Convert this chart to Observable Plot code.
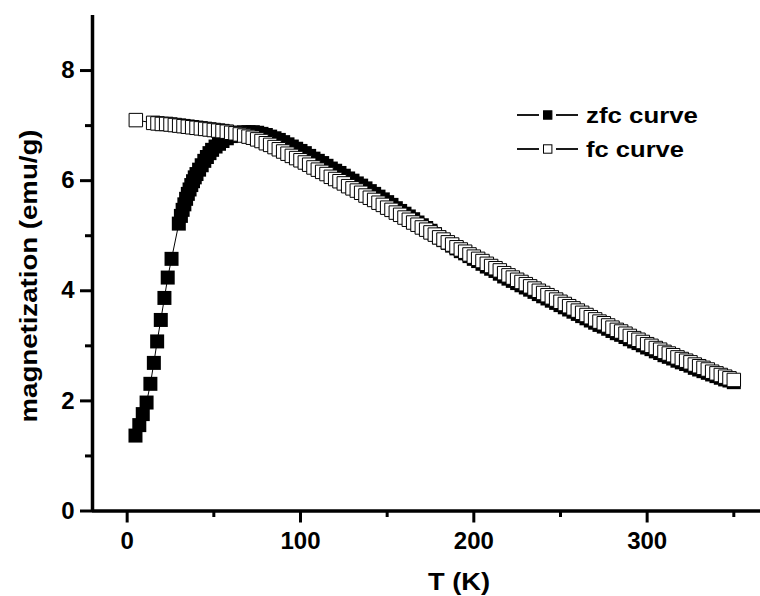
<!DOCTYPE html>
<html>
<head>
<meta charset="utf-8">
<script src="https://cdn.jsdelivr.net/npm/d3@7"></script>
<script src="https://cdn.jsdelivr.net/npm/@observablehq/plot@0.6"></script>
<style>
  body { margin: 0; background: #fff; }
</style>
</head>
<body>
<div id="chart"></div>
<script>
// ---- Data (T in K, M in emu/g) ----
const xMajorTicks = [0, 100, 200, 300];
const xMinorTicks = [50, 150, 250, 350];
const yMajorTicks = [0, 2, 4, 6, 8];
const yMinorTicks = [1, 3, 5, 7];

const xLabel = "T (K)";
const yLabel = "magnetization (emu/g)";
const seriesNames = ["zfc curve", "fc curve"];

const zfcPoints = [
  [4.8, 1.37], [7.0, 1.56], [9.0, 1.76], [11.2, 1.97], [13.4, 2.31], [15.4, 2.69],
  [17.3, 3.08], [19.4, 3.47], [21.5, 3.87], [23.4, 4.24], [25.6, 4.58], [29.8, 5.22],
  [31, 5.36], [32, 5.47], [33, 5.57], [34, 5.67], [35, 5.76], [36, 5.84], [37, 5.92],
  [38, 5.99], [39, 6.06], [40, 6.12], [41.5, 6.20], [43, 6.28], [44.5, 6.36], [46, 6.43],
  [47.5, 6.50], [49, 6.56], [51, 6.62], [53, 6.67], [55, 6.72], [57.5, 6.77], [60, 6.81],
  [62.5, 6.84], [65, 6.86], [67.5, 6.88], [70, 6.88], [72.5, 6.88], [75, 6.87], [77.5, 6.85],
  [80, 6.83], [82.5, 6.80], [85, 6.77], [87.5, 6.74], [90, 6.70], [92.5, 6.66], [95, 6.62],
  [97.5, 6.58], [100, 6.54], [102.5, 6.50], [105, 6.45], [107.5, 6.40], [110, 6.36],
  [112.5, 6.32], [115, 6.27], [117.5, 6.22], [120, 6.18], [122.5, 6.14], [125, 6.09],
  [127.5, 6.04], [130, 6.00], [132.5, 5.95], [135, 5.91], [137.5, 5.86], [140, 5.81],
  [142.5, 5.76], [145, 5.71], [147.5, 5.66], [150, 5.61], [152.5, 5.56], [155, 5.50],
  [157.5, 5.45], [160, 5.40], [162.5, 5.35], [165, 5.30], [167.5, 5.24], [170, 5.19],
  [172.5, 5.14], [175, 5.09], [177.5, 5.03], [180, 4.97], [182.5, 4.92], [185, 4.87],
  [187.5, 4.82], [190, 4.77], [192.5, 4.72], [195, 4.68], [197.5, 4.63], [200, 4.58],
  [202.5, 4.54], [205, 4.49], [207.5, 4.44], [210, 4.40], [212.5, 4.36], [215, 4.31],
  [217.5, 4.26], [220, 4.22], [222.5, 4.18], [225, 4.14], [227.5, 4.10], [230, 4.06],
  [232.5, 4.02], [235, 3.98], [237.5, 3.94], [240, 3.90], [242.5, 3.86], [245, 3.82],
  [247.5, 3.78], [250, 3.74], [252.5, 3.70], [255, 3.66], [257.5, 3.62], [260, 3.58],
  [262.5, 3.54], [265, 3.50], [267.5, 3.46], [270, 3.42], [272.5, 3.38], [275, 3.35],
  [277.5, 3.31], [280, 3.27], [282.5, 3.23], [285, 3.20], [287.5, 3.16], [290, 3.12],
  [292.5, 3.08], [295, 3.05], [297.5, 3.01], [300, 2.97], [302.5, 2.94], [305, 2.90],
  [307.5, 2.87], [310, 2.83], [312.5, 2.80], [315, 2.77], [317.5, 2.73], [320, 2.70],
  [322.5, 2.67], [325, 2.64], [327.5, 2.60], [330, 2.57], [332.5, 2.54], [335, 2.51],
  [337.5, 2.48], [340, 2.45], [342.5, 2.42], [345, 2.39], [347.5, 2.37], [350, 2.34]
];

const fcPoints = [
  [5, 7.10], [15, 7.05], [17.5, 7.04], [20, 7.03], [22.5, 7.03], [25, 7.02], [27.5, 7.01],
  [30, 7.00], [32.5, 6.99], [35, 6.98], [37.5, 6.97], [40, 6.96], [42.5, 6.95], [45, 6.94],
  [47.5, 6.93], [50, 6.92], [52.5, 6.91], [55, 6.90], [57.5, 6.89], [60, 6.87], [62.5, 6.86],
  [65, 6.84], [67.5, 6.82], [70, 6.80], [72.5, 6.78], [75, 6.75], [77.5, 6.72], [80, 6.68],
  [82.5, 6.65], [85, 6.61], [87.5, 6.57], [90, 6.53], [92.5, 6.49], [95, 6.45], [97.5, 6.41],
  [100, 6.37], [102.5, 6.33], [105, 6.29], [107.5, 6.24], [110, 6.20], [112.5, 6.16],
  [115, 6.12], [117.5, 6.07], [120, 6.03], [122.5, 5.99], [125, 5.95], [127.5, 5.90],
  [130, 5.86], [132.5, 5.82], [135, 5.78], [137.5, 5.73], [140, 5.69], [142.5, 5.65],
  [145, 5.60], [147.5, 5.56], [150, 5.51], [152.5, 5.47], [155, 5.42], [157.5, 5.38],
  [160, 5.33], [162.5, 5.29], [165, 5.24], [167.5, 5.20], [170, 5.15], [172.5, 5.11],
  [175, 5.06], [177.5, 5.02], [180, 4.97], [182.5, 4.93], [185, 4.88], [187.5, 4.84],
  [190, 4.79], [192.5, 4.75], [195, 4.71], [197.5, 4.66], [200, 4.62], [202.5, 4.58],
  [205, 4.54], [207.5, 4.49], [210, 4.45], [212.5, 4.41], [215, 4.37], [217.5, 4.32],
  [220, 4.28], [222.5, 4.24], [225, 4.20], [227.5, 4.16], [230, 4.12], [232.5, 4.08],
  [235, 4.04], [237.5, 4.00], [240, 3.96], [242.5, 3.92], [245, 3.88], [247.5, 3.84],
  [250, 3.80], [252.5, 3.76], [255, 3.72], [257.5, 3.68], [260, 3.64], [262.5, 3.60],
  [265, 3.56], [267.5, 3.52], [270, 3.48], [272.5, 3.44], [275, 3.41], [277.5, 3.37],
  [280, 3.33], [282.5, 3.29], [285, 3.26], [287.5, 3.22], [290, 3.18], [292.5, 3.14],
  [295, 3.11], [297.5, 3.07], [300, 3.03], [302.5, 3.00], [305, 2.96], [307.5, 2.93],
  [310, 2.89], [312.5, 2.86], [315, 2.83], [317.5, 2.79], [320, 2.76], [322.5, 2.73],
  [325, 2.70], [327.5, 2.66], [330, 2.63], [332.5, 2.60], [335, 2.57], [337.5, 2.53],
  [340, 2.50], [342.5, 2.47], [345, 2.44], [347.5, 2.41], [350, 2.38]
];

// ---- Tables built from the arrays ----
const zfc = zfcPoints.map(([T, M]) => ({T, M}));
const fc = fcPoints.map(([T, M]) => ({T, M}));

const FONT = "'Liberation Sans', Arial, Helvetica, sans-serif";

const chart = Plot.plot({
  width: 760,
  height: 596,
  marginLeft: 92,
  marginRight: 0,
  marginTop: 15,
  marginBottom: 85.5,
  x: {domain: [-20, 365.4]},
  y: {domain: [0, 9]},
  style: {fontFamily: FONT, fontWeight: "bold", fontSize: "24px", color: "black", background: "white", overflow: "visible"},
  marks: [
    // axes
    Plot.axisX({ticks: xMajorTicks, tickSize: 12, tickPadding: 9, strokeWidth: 3, label: null, fontSize: 24, fontWeight: "bold"}),
    Plot.axisX({ticks: xMinorTicks, tickSize: 6.5, strokeWidth: 3, tickFormat: () => "", label: null}),
    Plot.axisY({ticks: yMajorTicks, tickSize: 12, tickPadding: 6, strokeWidth: 3, label: null, fontSize: 24, fontWeight: "bold"}),
    Plot.axisY({ticks: yMinorTicks, tickSize: 7, strokeWidth: 3, tickFormat: () => "", label: null}),
    Plot.ruleY([0], {strokeWidth: 3.5, stroke: "black"}),
    Plot.ruleX([-20], {y1: 0, y2: 9, strokeWidth: 3.5, stroke: "black"}),
    // zfc series
    Plot.line(zfc, {x: "T", y: "M", stroke: "black", strokeWidth: 1}),
    Plot.dot(zfc, {x: "T", y: "M", symbol: "square", r: 7.9, fill: "black", stroke: "none"}),
    // fc series
    Plot.line(fc, {x: "T", y: "M", stroke: "black", strokeWidth: 1}),
    Plot.dot(fc, {x: "T", y: "M", symbol: "square", r: 7.6, fill: "white", stroke: "black", strokeWidth: 1})
  ]
});
document.getElementById("chart").append(chart);

// ---- Axis titles and legend ----
const svg = d3.select(chart);

svg.append("text")
  .attr("transform", "translate(29,276) rotate(-90)")
  .attr("text-anchor", "middle")
  .attr("dy", "0.35em")
  .attr("font-family", FONT)
  .attr("font-weight", "bold")
  .attr("font-size", 24)
  .attr("textLength", 293)
  .attr("lengthAdjust", "spacingAndGlyphs")
  .attr("fill", "black")
  .text(yLabel);

svg.append("text")
  .attr("x", 459)
  .attr("y", 590)
  .attr("text-anchor", "middle")
  .attr("font-family", FONT)
  .attr("font-weight", "bold")
  .attr("font-size", 24)
  .attr("textLength", 62)
  .attr("lengthAdjust", "spacingAndGlyphs")
  .attr("fill", "black")
  .text(xLabel);

const legendFills = ["black", "white"];
const legendWidths = [112, 98];
const legendY = [115, 149];
const lg = svg.append("g");
seriesNames.forEach((name, i) => {
  const y = legendY[i];
  lg.append("line").attr("x1", 517).attr("x2", 539).attr("y1", y).attr("y2", y)
    .attr("stroke", "black").attr("stroke-width", 1.8);
  lg.append("line").attr("x1", 556).attr("x2", 578).attr("y1", y).attr("y2", y)
    .attr("stroke", "black").attr("stroke-width", 1.8);
  lg.append("rect").attr("x", 543.5).attr("y", y - 4.2).attr("width", 8.4).attr("height", 8.4)
    .attr("fill", legendFills[i]).attr("stroke", "black").attr("stroke-width", 1);
  lg.append("text").attr("x", 586).attr("y", y + 8)
    .attr("text-anchor", "start")
    .attr("font-family", FONT).attr("font-weight", "bold").attr("font-size", 22)
    .attr("textLength", legendWidths[i]).attr("lengthAdjust", "spacingAndGlyphs")
    .attr("fill", "black")
    .text(name);
});
</script>
</body>
</html>
